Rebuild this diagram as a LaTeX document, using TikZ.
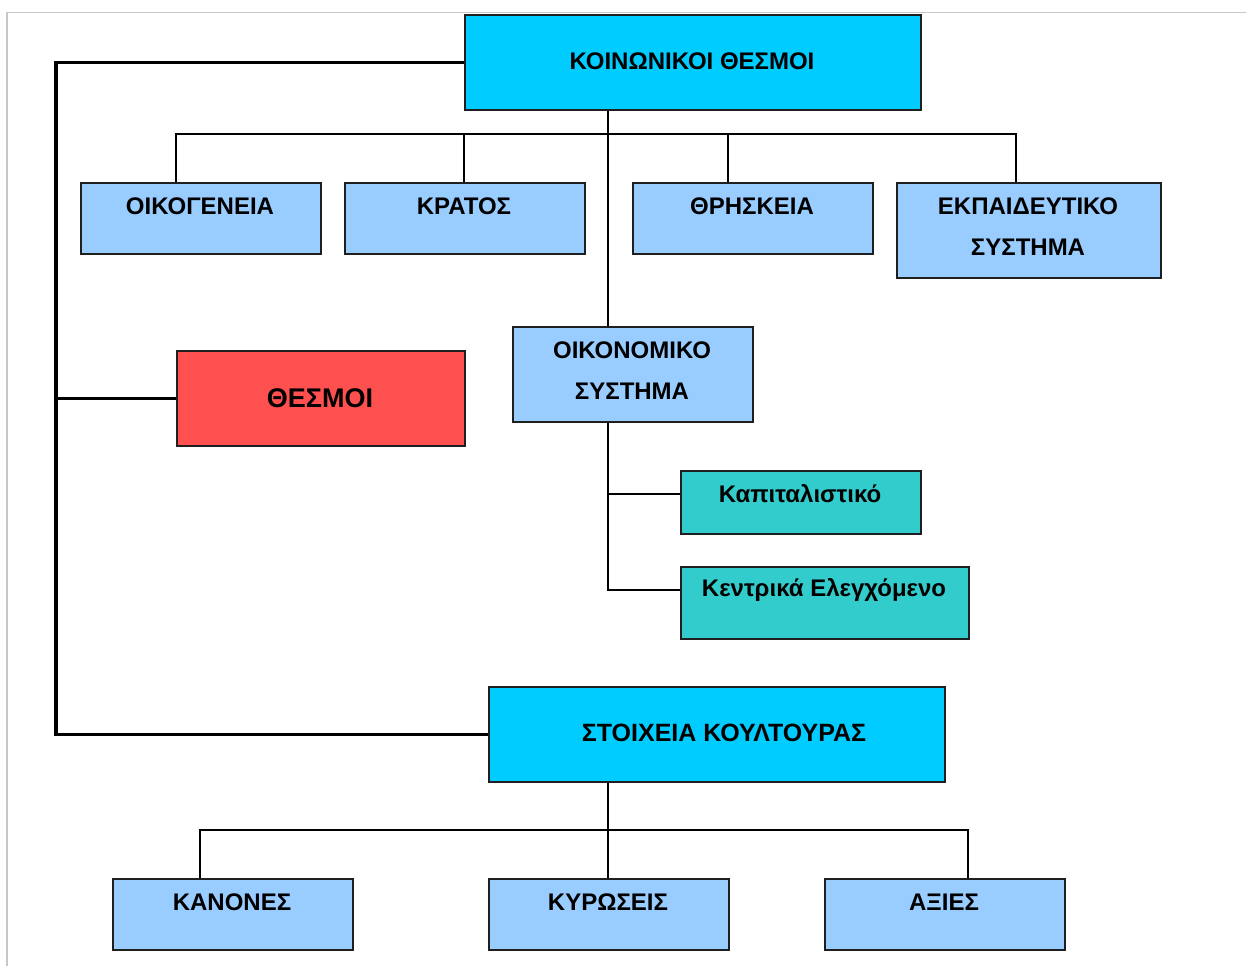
\documentclass[tikz,border=0pt]{standalone}
\usepackage{fontspec}
\setmainfont{Liberation Sans}
\definecolor{cyanbox}{HTML}{00CCFF}
\definecolor{bluebox}{HTML}{99CCFF}
\definecolor{redbox}{HTML}{FF5050}
\definecolor{tealbox}{HTML}{33CCCC}
\begin{document}
\begin{tikzpicture}[x=1pt,y=-1pt,
  box/.style={draw=black!88, line width=1.7pt, inner sep=0pt, anchor=north west},
  lbl/.style={font=\fontsize{24}{28}\selectfont\bfseries, inner sep=0pt, align=center},
  conn/.style={line width=1.7pt, line join=miter},
  heavy/.style={line width=3.4pt, line join=miter}
]
\useasboundingbox (0,0) rectangle (1246,966);
\fill[white] (0,0) rectangle (1246,966);
\draw[black!22, line width=1.5pt] (7,966) -- (7,12.5) -- (1246,12.5);

% boxes
\node[box, fill=cyanbox, minimum width=456, minimum height=95] (koin) at (464,14) {};
\node[box, fill=bluebox, minimum width=240, minimum height=71] (oik) at (80,182) {};
\node[box, fill=bluebox, minimum width=240, minimum height=71] (kra) at (344,182) {};
\node[box, fill=bluebox, minimum width=240, minimum height=71] (thr) at (632,182) {};
\node[box, fill=bluebox, minimum width=264, minimum height=95] (ekp) at (896,182) {};
\node[box, fill=bluebox, minimum width=240, minimum height=95] (econ) at (512,326) {};
\node[box, fill=redbox, minimum width=288, minimum height=95] (thes) at (176,350) {};
\node[box, fill=tealbox, minimum width=240, minimum height=63] (kap) at (680,470) {};
\node[box, fill=tealbox, minimum width=288, minimum height=72] (kent) at (680,566) {};
\node[box, fill=cyanbox, minimum width=456, minimum height=95] (cult) at (488,686) {};
\node[box, fill=bluebox, minimum width=240, minimum height=71] (kan) at (112,878) {};
\node[box, fill=bluebox, minimum width=240, minimum height=71] (kyr) at (488,878) {};
\node[box, fill=bluebox, minimum width=240, minimum height=71] (axi) at (824,878) {};

% labels
\node[lbl] (tkoin) at (692,61) {ΚΟΙΝΩΝΙΚΟΙ ΘΕΣΜΟΙ};
\node[lbl] (toik) at (200,206) {ΟΙΚΟΓΕΝΕΙΑ};
\node[lbl] (tkra) at (464,206) {ΚΡΑΤΟΣ};
\node[lbl] (tthr) at (752,206) {ΘΡΗΣΚΕΙΑ};
\node[lbl] (tekp) at (1028,227) {ΕΚΠΑΙΔΕΥΤΙΚΟ\\[13pt]ΣΥΣΤΗΜΑ};
\node[lbl] (tecon) at (632,371) {ΟΙΚΟΝΟΜΙΚΟ\\[13pt]ΣΥΣΤΗΜΑ};
\node[lbl, font=\fontsize{27}{31}\selectfont\bfseries] (tthes) at (320,398) {ΘΕΣΜΟΙ};
\node[lbl] (tkap) at (800,494) {Καπιταλιστικό};
\node[lbl] (tkent) at (824,590) {Κεντρικά Ελεγχόμενο};
\node[lbl, font=\fontsize{25}{29}\selectfont\bfseries] (tcult) at (724,733) {ΣΤΟΙΧΕΙΑ ΚΟΥΛΤΟΥΡΑΣ};
\node[lbl] (tkan) at (232,902) {ΚΑΝΟΝΕΣ};
\node[lbl] (tkyr) at (608,902) {ΚΥΡΩΣΕΙΣ};
\node[lbl] (taxi) at (944,902) {ΑΞΙΕΣ};

% top tree
\coordinate (trunk) at (608,134);
\coordinate (b1) at (176,134);
\coordinate (b2) at (464,134);
\coordinate (b3) at (728,134);
\coordinate (b4) at (1016,134);
\draw[conn] (trunk |- koin.south) -- (trunk |- econ.north);
\draw[conn] (b1 |- oik.north) -- (b1) -- (b4) -- (b4 |- ekp.north);
\draw[conn] (b2) -- (b2 |- kra.north);
\draw[conn] (b3) -- (b3 |- thr.north);

% economy branches
\coordinate (k1) at (608,494);
\coordinate (k2) at (608,590);
\draw[conn] (k1 |- econ.south) -- (k2) -- (k2 -| kent.west);
\draw[conn] (k1) -- (k1 -| kap.west);

% left heavy line
\coordinate (lx) at (56,61);
\draw[heavy] (koin.west) -- (lx |- koin.west) -- (lx |- cult.west) -- (cult.west);
\draw[heavy] (lx |- thes.west) -- (thes.west);

% bottom tree
\coordinate (c0) at (608,830);
\coordinate (c1) at (200,830);
\coordinate (c3) at (968,830);
\draw[conn] (c0 |- cult.south) -- (c0 |- kyr.north);
\draw[conn] (c1 |- kan.north) -- (c1) -- (c3) -- (c3 |- axi.north);
\end{tikzpicture}
\end{document}
